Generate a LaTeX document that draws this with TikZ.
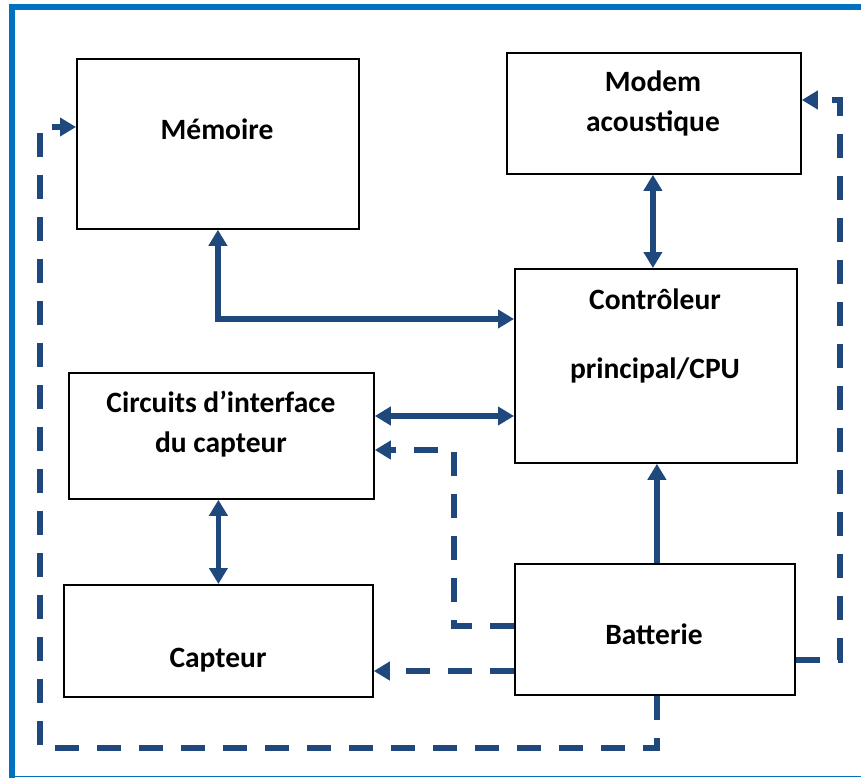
\documentclass[tikz,border=0pt]{standalone}
\usepackage{fontspec}
\setmainfont{Carlito}
\usetikzlibrary{arrows.meta}
\definecolor{linkblue}{RGB}{31,73,125}
\definecolor{frameblue}{RGB}{0,112,192}
\tikzset{
  box/.style={draw=black, line width=1.8pt, fill=white, anchor=north west, inner sep=0pt},
  lbl/.style={anchor=base, inner sep=0pt, font=\fontsize{29.5}{35}\selectfont\bfseries},
  tip/.tip={Triangle[width=18pt,length=16pt]},
  link/.style={draw=linkblue, line width=5.5pt, line join=miter},
  feed/.style={draw=linkblue, line width=5.5pt, dash pattern=on 24pt off 18pt, -{tip}},
  framerule/.style={draw=frameblue, line cap=rect}
}
\begin{document}
\begin{tikzpicture}[x=1pt, y=-1pt]
\useasboundingbox (0,0) rectangle (861,778);
% page frame
\draw[framerule, line width=6pt] (12,778) -- (12,7.5) -- (861,7.5);
\draw[framerule, line width=1.5pt] (12,776.5) -- (861,776.5);

% blocks
\node[box, minimum width=282pt, minimum height=170pt] (mem)   at (76,58)   {};
\node[box, minimum width=294pt, minimum height=121pt] (modem) at (506,52)  {};
\node[box, minimum width=282pt, minimum height=194pt] (cpu)   at (514,268) {};
\node[box, minimum width=305pt, minimum height=126pt] (circ)  at (68,372)  {};
\node[box, minimum width=309pt, minimum height=112pt] (cap)   at (63,584)  {};
\node[box, minimum width=280pt, minimum height=131pt] (batt)  at (514,563) {};

% block labels
\node[lbl] (tmem)   at (217,140) {Mémoire};
\node[lbl] (tmod1)  at (653,92)  {Modem};
\node[lbl] (tmod2)  at (653,132) {acoustique};
\node[lbl] (tcpu1)  at (655,309) {Contrôleur};
\node[lbl] (tcpu2)  at (655,378) {principal/CPU};
\node[lbl] (tcirc1) at (221,412) {Circuits d’interface};
\node[lbl] (tcirc2) at (221,452) {du capteur};
\node[lbl] (tcap)   at (218,667) {Capteur};
\node[lbl] (tbatt)  at (654,644) {Batterie};

% data links
\draw[link, {tip}-{tip}] (mem.south) |- ([yshift=-51pt]cpu.north west);
\draw[link, {tip}-{tip}] ([xshift=-1pt]modem.south) -- ([xshift=-1pt]modem.south |- cpu.north);
\draw[link, {tip}-{tip}] ([yshift=-44pt]circ.north east) -- ([yshift=-148pt]cpu.north west);
\draw[link, {tip}-{tip}] (cap.north |- circ.south) -- (cap.north);
\draw[link, -{tip}] ([xshift=2pt]batt.north) -- ([xshift=2pt]batt.north |- cpu.south);

% power feeds from the battery
\draw[feed] ([yshift=-63pt]batt.north west) -| ([xshift=79pt,yshift=-78pt]circ.north east) -- ([yshift=-78pt]circ.north east);
\draw[feed] ([yshift=-108pt]batt.north west) -- ([yshift=-87pt]cap.north east);
\draw[feed] ([xshift=2pt]batt.south) -- ++(0,-52pt) -| ([xshift=-36pt,yshift=-69pt]mem.north west) -- ([yshift=-69pt]mem.north west);
\draw[feed] ([yshift=-97pt]batt.north east) -| ([xshift=38pt,yshift=-48pt]modem.north east) -- ([yshift=-48pt]modem.north east);
\end{tikzpicture}
\end{document}
